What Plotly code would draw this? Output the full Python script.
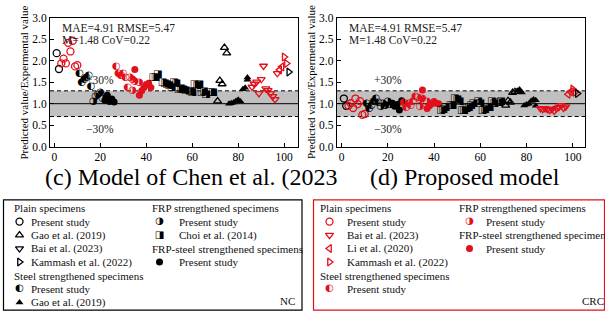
import plotly.graph_objects as go

# ---------------- data (specimen index, predicted/experimental ratio) ----------------
idx_nc_plain_ps = [1, 2]
chen_nc_plain_ps = [2.18, 1.81]
prop_nc_plain_ps = [1.12, 0.95]

idx_crc_plain_ps = [3, 4, 5, 6, 7, 8, 9, 10]
chen_crc_plain_ps = [1.94, 2.05, 1.94, 2.42, 2.22, 2.47, 1.87, 1.90]
prop_crc_plain_ps = [0.95, 1.01, 0.90, 1.12, 0.99, 1.06, 0.74, 0.76]

idx_nc_steel_ps = [11, 12, 13, 14, 15, 16]
chen_nc_steel_ps = [1.71, 1.49, 1.56, 1.62, 1.66, 1.40]
prop_nc_steel_ps = [1.00, 0.89, 0.96, 1.04, 1.11, 1.02]

idx_nc_frp_ps = [17, 18, 19, 20, 21]
chen_nc_frp_ps = [1.05, 1.16, 1.22, 1.27, 1.12]
prop_nc_frp_ps = [0.94, 1.01, 0.96, 1.04, 0.98]

idx_nc_frpsteel_ps = [22, 23, 24, 25, 26]
chen_nc_frpsteel_ps = [1.08, 1.20, 1.05, 1.11, 1.04]
prop_nc_frpsteel_ps = [1.01, 0.94, 0.98, 0.85, 1.07]

idx_crc_steel_ps = [27, 28, 29, 30, 31, 32]
chen_crc_steel_ps = [1.86, 1.70, 1.66, 1.71, 1.61, 1.37]
prop_crc_steel_ps = [1.02, 0.91, 1.00, 0.96, 1.04, 1.17]

idx_crc_frp_ps = [33, 34, 34, 35, 37]
chen_crc_frp_ps = [1.60, 1.30, 1.56, 1.52, 1.49]
prop_crc_frp_ps = [1.14, 0.94, 1.10, 1.11, 1.05]

idx_crc_frpsteel_ps = [35, 37, 38, 39, 40, 41, 42]
chen_crc_frpsteel_ps = [1.80, 1.20, 1.30, 1.38, 1.45, 1.48, 1.38]
prop_crc_frpsteel_ps = [1.32, 0.89, 0.95, 1.00, 1.05, 1.01, 1.00]

idx_choi = [43, 44, 45, 47, 48, 49, 50, 51, 52, 53, 54, 55, 56, 57, 59, 60, 61, 62, 63, 64, 65, 66, 68, 69]
chen_choi = [1.62, 1.60, 1.69, 1.49, 1.47, 1.45, 1.43, 1.37, 1.50, 1.48, 1.32, 1.35,
             1.32, 1.30, 1.28, 1.26, 1.45, 1.43, 1.45, 1.26, 1.28, 1.22, 1.25, 1.26]
prop_choi = [0.85, 0.87, 0.90, 0.95, 0.96, 1.11, 1.09, 1.05, 0.83, 0.85, 0.89, 0.90,
             0.96, 1.00, 1.04, 1.01, 0.85, 0.87, 0.90, 0.92, 1.04, 1.01, 1.02, 1.05]

idx_gao_plain = [71, 72, 73, 74, 75]
chen_gao_plain = [1.06, 1.54, 1.46, 2.31, 2.18]
prop_gao_plain = [0.96, 1.07, 1.03, 1.26, 1.28]

idx_gao_steel = [76, 77, 78, 79, 80, 81, 82, 83, 84, 84]
chen_gao_steel = [1.00, 1.01, 1.03, 1.06, 1.09, 1.05, 1.34, 1.37, 1.56, 1.61]
prop_gao_steel = [1.30, 1.33, 1.26, 0.96, 0.98, 1.00, 1.06, 1.10, 0.95, 1.08]

idx_bai = [86, 87, 88, 89, 90, 91, 92, 93, 94, 95, 96, 97]
chen_bai = [1.39, 1.46, 1.51, 1.24, 1.57, 1.88, 1.35, 1.31, 1.24, 1.17, 1.10, 1.71]
prop_bai = [0.89, 0.87, 0.89, 0.87, 0.85, 0.87, 0.83, 0.89, 0.92, 0.96, 0.90, 0.93]

idx_li = [98, 99]
chen_li = [1.79, 1.86]
prop_li = [1.22, 1.28]

idx_kam_crc = [100, 101]
chen_kam_crc = [2.09, 1.94]
prop_kam_crc = [1.34, 1.27]

idx_kam_nc = [102]
chen_kam_nc = [1.74]
prop_kam_nc = [1.24]

x_ticks = [0, 20, 40, 60, 80, 100]
y_ticks = [0.0, 0.5, 1.0, 1.5, 2.0, 2.5, 3.0]
stats_line1 = "MAE=4.91 RMSE=5.47"
stats_line2 = "M=1.48 CoV=0.22"
captions = ["(c) Model of Chen et al. (2023", "(d) Proposed model"]
y_title = "Predicted value/Expermental value"

# ---------------- styles ----------------
RED = "#e2101a"
BLK = "#000000"
SERIF = "Liberation Serif, Times New Roman, Times, serif"
GLYPH = "DejaVu Sans"
W, H = 605, 320

styles = {
    "o": dict(kind="m", symbol="circle-open"),
    "^": dict(kind="m", symbol="triangle-up-open"),
    "v": dict(kind="m", symbol="triangle-down-open"),
    ">": dict(kind="m", symbol="triangle-right-open"),
    "<": dict(kind="m", symbol="triangle-left-open"),
    "A": dict(kind="m", symbol="triangle-up"),
    "*": dict(kind="m", symbol="circle"),
    "L": dict(kind="t", glyph="\u25D0"),
    "R": dict(kind="t", glyph="\u25D1"),
    "S": dict(kind="t", glyph="\u25E8"),
}

series = [
    (idx_nc_plain_ps, chen_nc_plain_ps, prop_nc_plain_ps, "o", BLK),
    (idx_crc_plain_ps, chen_crc_plain_ps, prop_crc_plain_ps, "o", RED),
    (idx_nc_steel_ps, chen_nc_steel_ps, prop_nc_steel_ps, "L", BLK),
    (idx_nc_frp_ps, chen_nc_frp_ps, prop_nc_frp_ps, "R", BLK),
    (idx_nc_frpsteel_ps, chen_nc_frpsteel_ps, prop_nc_frpsteel_ps, "*", BLK),
    (idx_crc_steel_ps, chen_crc_steel_ps, prop_crc_steel_ps, "L", RED),
    (idx_crc_frp_ps, chen_crc_frp_ps, prop_crc_frp_ps, "R", RED),
    (idx_crc_frpsteel_ps, chen_crc_frpsteel_ps, prop_crc_frpsteel_ps, "*", RED),
    (idx_choi, chen_choi, prop_choi, "S", BLK),
    (idx_gao_plain, chen_gao_plain, prop_gao_plain, "^", BLK),
    (idx_gao_steel, chen_gao_steel, prop_gao_steel, "A", BLK),
    (idx_bai, chen_bai, prop_bai, "v", RED),
    (idx_li, chen_li, prop_li, "<", RED),
    (idx_kam_crc, chen_kam_crc, prop_kam_crc, ">", RED),
    (idx_kam_nc, chen_kam_nc, prop_kam_nc, ">", BLK),
]

MSIZE = 7
GSIZE = 10


def make_trace(x, y, key, color, xa, ya, msize=MSIZE, gsize=GSIZE):
    st = styles[key]
    if st["kind"] == "m":
        open_ = st["symbol"].endswith("open")
        return go.Scatter(
            x=x, y=y, mode="markers", xaxis=xa, yaxis=ya, showlegend=False, hoverinfo="skip",
            marker=dict(symbol=st["symbol"], size=msize, color=color,
                        line=dict(color=color, width=1.3 if open_ else 0)))
    return go.Scatter(
        x=x, y=y, mode="text", text=[st["glyph"]] * len(x), textposition="middle center",
        xaxis=xa, yaxis=ya, showlegend=False, hoverinfo="skip",
        textfont=dict(family=GLYPH, size=gsize, color=color))


fig = go.Figure()
for (ix, yc, yp, key, col) in series:
    fig.add_trace(make_trace(ix, yc, key, col, "x", "y"))
    fig.add_trace(make_trace(ix, yp, key, col, "x2", "y2"))

# ---------------- legend boxes (drawn on a full-figure pixel axis) ----------------
legend_rows = [210, 224, 238, 252, 266, 280, 294, 308]
nc_legend = [
    # (column, row, header?, key, text)
    (0, 0, True, None, "Plain specimens"),
    (0, 1, False, "o", "Present study"),
    (0, 2, False, "^", "Gao et al. (2019)"),
    (0, 3, False, "v", "Bai et al. (2023)"),
    (0, 4, False, ">", "Kammash et al. (2022)"),
    (0, 5, True, None, "Steel strengthened specimens"),
    (0, 6, False, "L", "Present study"),
    (0, 7, False, "A", "Gao et al. (2019)"),
    (1, 0, True, None, "FRP strengthened specimens"),
    (1, 1, False, "R", "Present study"),
    (1, 2, False, "S", "Choi et al. (2014)"),
    (1, 3, True, None, "FRP-steel strengthened specimens"),
    (1, 4, False, "*", "Present study"),
]
crc_legend = [
    (0, 0, True, None, "Plain specimens"),
    (0, 1, False, "o", "Present study"),
    (0, 2, False, "v", "Bai et al. (2023)"),
    (0, 3, False, "<", "Li et al. (2020)"),
    (0, 4, False, ">", "Kammash et al. (2022)"),
    (0, 5, True, None, "Steel strengthened specimens"),
    (0, 6, False, "L", "Present study"),
    (1, 0, True, None, "FRP strengthened specimens"),
    (1, 1, False, "R", "Present study"),
    (1, 2, True, None, "FRP-steel strengthened specimens"),
    (1, 3, False, "*", "Present study"),
]
# column x positions: (header, marker, text)
nc_cols = [(11.5, 19.5, 28.5), (150, 159.5, 176.5)]
crc_cols = [(317.5, 329.5, 345), (456.5, 469.5, 484)]

annotations = []


def px_ann(x, y, text, size=11, xanchor="left", color="#000", family=SERIF, angle=0):
    annotations.append(dict(
        x=x / W, y=1 - y / H, xref="paper", yref="paper", text=text, showarrow=False,
        xanchor=xanchor, yanchor="middle", textangle=angle,
        font=dict(family=family, size=size, color=color)))


for items, cols, color in [(nc_legend, nc_cols, BLK), (crc_legend, crc_cols, RED)]:
    for (c, r, hdr, key, txt) in items:
        y = legend_rows[r]
        hx, mx, tx = cols[c]
        if hdr:
            px_ann(hx, y, txt, color="#111")
        else:
            fig.add_trace(make_trace([mx], [y], key, color, "x3", "y3", msize=7, gsize=10))
            px_ann(tx, y, txt, color="#111")

px_ann(297, 307, "NC", size=11, xanchor="right", color="#111")
px_ann(606, 307, "CRC", size=11, xanchor="right", color="#111")

shapes = [
    dict(type="rect", xref="paper", yref="paper", x0=3.5 / W, x1=302 / W,
         y0=1 - 316 / H, y1=1 - 201.5 / H, line=dict(color=BLK, width=1.2), fillcolor="rgba(0,0,0,0)"),
    dict(type="rect", xref="paper", yref="paper", x0=313.5 / W, x1=604.5 / W,
         y0=1 - 316 / H, y1=1 - 201.5 / H, line=dict(color=RED, width=1.2), fillcolor="rgba(0,0,0,0)"),
]

# ---------------- plot decorations ----------------
for xa, ya, xd in [("x", "y", "x domain"), ("x2", "y2", "x2 domain")]:
    shapes.append(dict(type="rect", xref=xd, yref=ya, x0=0, x1=1, y0=0.7, y1=1.3,
                       fillcolor="#c0c0c0", line=dict(width=0), layer="below"))
    for yv, dash in [(1.3, "4px,3px"), (0.7, "4px,3px"), (1.0, "solid")]:
        shapes.append(dict(type="line", xref=xd, yref=ya, x0=0, x1=1, y0=yv, y1=yv,
                           line=dict(color="#000", width=1, dash=dash), layer="below"))

# stats and +/-30% labels
for left, xa, ya in [(59.5, "x", "y"), (346.5, "x2", "y2")]:
    px_ann(left, 22.5, stats_line1, size=11.5, color="#222")
    px_ann(left, 35.5, stats_line2, size=11.5, color="#222")
    annotations.append(dict(x=20, y=1.55, xref=xa, yref=ya, text="+30%", showarrow=False,
                            font=dict(family=SERIF, size=11.5, color="#222")))
    annotations.append(dict(x=20, y=0.41, xref=xa, yref=ya, text="\u221230%", showarrow=False,
                            font=dict(family=SERIF, size=11.5, color="#222")))

# y titles and captions
px_ann(24, 79.5, y_title, size=11, xanchor="center", angle=-90)
px_ann(310.5, 79.5, y_title, size=11, xanchor="center", angle=-90)
px_ann(43, 178, captions[0], size=24)
px_ann(368, 178, captions[1], size=24)

axis_common = dict(showline=True, mirror=True, linecolor="#000", linewidth=1, showgrid=False,
                   zeroline=False, ticks="inside", ticklen=4, tickcolor="#000",
                   tickfont=dict(family=SERIF, size=11.5, color="#000"))
ydom = [1 - 146 / H, 1 - 12.5 / H]
fig.update_layout(
    width=W, height=H, margin=dict(l=0, r=0, t=0, b=0),
    paper_bgcolor="white", plot_bgcolor="rgba(0,0,0,0)", showlegend=False,
    xaxis=dict(domain=[50 / W, 298 / W], range=[-1.9, 106], tickvals=x_ticks, anchor="y", **axis_common),
    yaxis=dict(domain=ydom, range=[0, 3], tickvals=y_ticks, tickformat=".1f", anchor="x", **axis_common),
    xaxis2=dict(domain=[336.7 / W, 585 / W], range=[-2.1, 105.3], tickvals=x_ticks, anchor="y2", **axis_common),
    yaxis2=dict(domain=ydom, range=[0, 3], tickvals=y_ticks, tickformat=".1f", anchor="x2", **axis_common),
    xaxis3=dict(domain=[0, 1], range=[0, W], visible=False, anchor="y3", fixedrange=True),
    yaxis3=dict(domain=[0, 1], range=[H, 0], visible=False, anchor="x3", fixedrange=True),
    shapes=shapes, annotations=annotations,
)

fig.write_html("out.html")
